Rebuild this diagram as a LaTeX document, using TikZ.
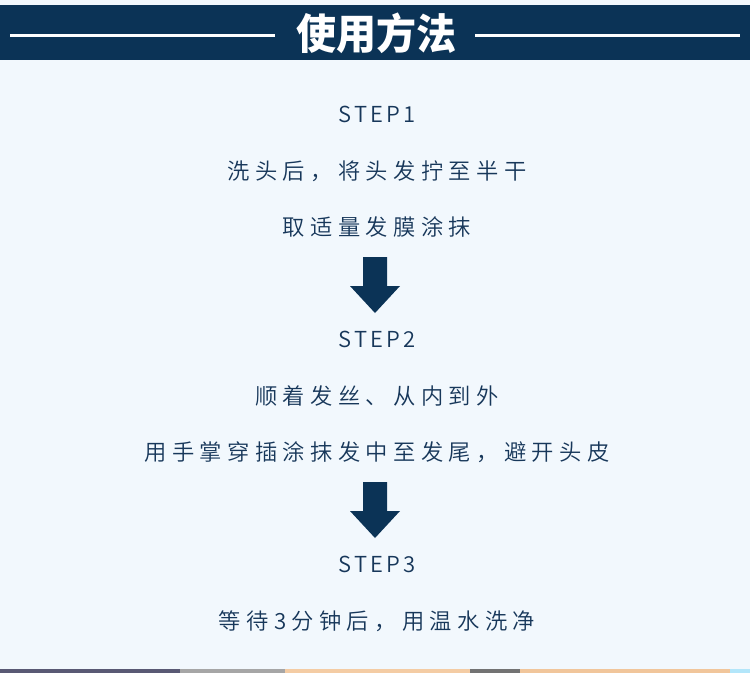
\documentclass[tikz,border=0pt]{standalone}
\usepackage{fontspec}
\setmainfont{Noto Sans CJK SC}
\newfontfamily\cjk[LetterSpace=24]{Noto Sans CJK SC DemiLight}
\newfontfamily\steplat[LetterSpace=15]{Noto Sans CJK SC DemiLight}
\newfontfamily\ttl{Noto Sans CJK SC}
\definecolor{navy}{HTML}{0B3356}
\definecolor{ink}{HTML}{17375A}
\definecolor{bg}{HTML}{F2F8FD}
\tikzset{
  steplabel/.style={text=ink, font=\steplat\fontsize{22}{26}\selectfont, inner sep=0pt, anchor=center},
  bodytext/.style={text=ink, font=\cjk\fontsize{22.3}{26}\selectfont, inner sep=0pt, anchor=center},
  blockarrow/.style={fill=navy, draw=none},
  whiteline/.style={draw=white, line width=3pt}
}
\begin{document}
\begin{tikzpicture}[x=1pt,y=-1pt]
\useasboundingbox (0,0) rectangle (750,673);
\fill[bg] (0,0) rectangle (750,673);
% header bar
\fill[navy] (0,5) rectangle (750,60);
\node[text=white, font=\ttl\bfseries\fontsize{40}{44}\selectfont, inner sep=0pt, yscale=1.05] (title) at (376,33) {使用方法};
\draw[whiteline] (10,35) -- (275,35);
\draw[whiteline] (475,35) -- (740,35);
% step 1
\node[steplabel] (s1) at (377,114) {STEP1};
\node[bodytext] (s1a) at (377,171) {洗头后，将头发拧至半干};
\node[bodytext] (s1b) at (377,227) {取适量发膜涂抹};
% arrow 1
\fill[blockarrow] (363,257) -- (387,257) -- (387,286) -- (400,286) -- (375,313) -- (350,286) -- (363,286) -- cycle;
% step 2
\node[steplabel] (s2) at (377,339) {STEP2};
\node[bodytext] (s2a) at (377,396) {顺着发丝、从内到外};
\node[bodytext] (s2b) at (377,452) {用手掌穿插涂抹发中至发尾，避开头皮};
% arrow 2
\fill[blockarrow] (363,482) -- (387,482) -- (387,511) -- (400,511) -- (375,538) -- (350,511) -- (363,511) -- cycle;
% step 3
\node[steplabel] (s3) at (377,564) {STEP3};
\node[bodytext] (s3a) at (377,621) {等待3分钟后，用温水洗净};
% bottom photo strip
\fill[black!65!blue!30!gray] (0,669) rectangle (180,673);
\fill[gray!70] (180,669) rectangle (285,673);
\fill[brown!45!orange!40!white] (285,669) rectangle (470,673);
\fill[black!55] (470,669) rectangle (520,673);
\fill[brown!50!orange!45!white] (520,669) rectangle (730,673);
\fill[cyan!30] (730,669) rectangle (750,673);
\end{tikzpicture}
\end{document}
